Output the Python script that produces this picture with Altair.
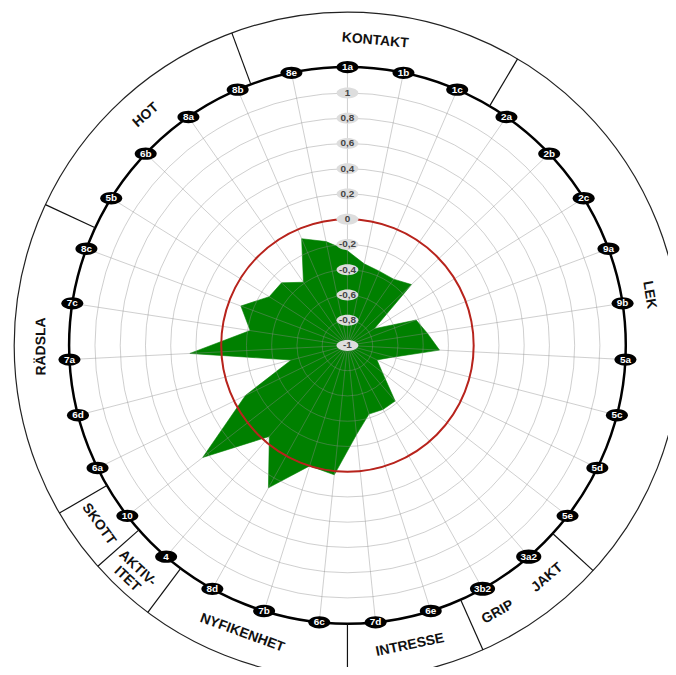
import altair as alt
import pandas as pd

# ---------------- data ----------------
codes = ["1a", "1b", "1c", "2a", "2b", "2c", "9a", "9b", "5a", "5c", "5d", "5e",
         "3a2", "3b2", "6e", "7d", "6c", "7b", "8d", "4", "10", "6a", "6d", "7a",
         "7c", "8c", "5b", "6b", "8a", "8b", "8e"]
scores = [-0.25, -0.34, -0.36, -0.36, -0.30, -0.75, -0.42, -0.36, -0.27, -0.63,
          -0.74, -0.65, -0.42, -0.42, -0.43, -0.29, 0.03, 0.00, 0.29, -0.05,
          0.45, -0.10, -0.54, 0.25, -0.22, -0.10, -0.27, -0.28, -0.39, -0.08, -0.16]
tick_values = [-1.0, -0.8, -0.6, -0.4, -0.2, 0.0, 0.2, 0.4, 0.6, 0.8, 1.0]
tick_labels = ["-1", "-0,8", "-0,6", "-0,4", "-0,2", "0", "0,2", "0,4", "0,6", "0,8", "1"]
ring_values = [-0.8, -0.6, -0.4, -0.2, 0.0, 0.2, 0.4, 0.6, 0.8, 1.0]
reference_value = 0.0
section_names = ["KONTAKT", "LEK", "JAKT", "GRIP", "INTRESSE", "NYFIKENHET",
                 "AKTIV-\nITET", "SKOTT", "RÄDSLA", "HOT"]

# ---------------- layout ----------------
section_label_deg = [5.2, 80.5, 139.3, 150.6, 168.2, 200.1, 223.3, 234.3, 269.8, 318.8]
section_divider_deg = [339.7, 30.7, 132.5, 156.0, 180.0, 216.8, 228.5, 239.8, 295.0]

N = len(codes)
PX = 127.0          # pixels per value unit
W, H = 664, 659
CX, CY = 341.5, 337.5
R_CODE = 2.205
R_SECTION = 2.425
R_OUTER = 2.64
FONT = "Liberation Sans"
OVAL_T = "M -1 0 A 1 0.5 0 1 1 1 0 A 1 0.5 0 1 1 -1 0 Z"
OVAL_C = "M -1 0 A 1 0.56 0 1 1 1 0 A 1 0.56 0 1 1 -1 0 Z"

xs = alt.Scale(domain=[-CX / PX, (W - CX) / PX], nice=False, zero=False)
ys = alt.Scale(domain=[-(H - CY) / PX, CY / PX], nice=False, zero=False)


def X(f):
    return alt.X(f, type="quantitative", scale=xs, axis=None)


def Y(f):
    return alt.Y(f, type="quantitative", scale=ys, axis=None)


base_df = pd.DataFrame({"i": list(range(N)), "code": codes, "v": scores})
poly_df = pd.DataFrame({"i": list(range(N)) + [N], "v": scores + scores[:1]})
ring_df = pd.DataFrame({"v": ring_values})
ref_df = pd.DataFrame({"v": [reference_value]})
tick_df = pd.DataFrame({"v": tick_values, "label": tick_labels})
sec_df = pd.DataFrame({"name": section_names, "deg": section_label_deg})
div_df = pd.DataFrame({"deg": section_divider_deg})
frame_df = pd.DataFrame({"rr": [R_CODE, R_OUTER], "w": ["thick", "thin"]})

TH = f"2*PI*datum.i/{N}"
CIRCLE_SIZE = f"pow(2*datum.rr*{PX}, 2)"

polygon = alt.Chart(poly_df).transform_calculate(
    th=TH, rr="datum.v+1"
).transform_calculate(
    px="datum.rr*sin(datum.th)", py="datum.rr*cos(datum.th)"
).mark_line(fill="#008000", stroke="#008000", strokeWidth=0.6).encode(
    x=X("px"), y=Y("py"), order=alt.Order("i:Q")
)

spokes = alt.Chart(base_df).transform_calculate(
    th=TH, c="0"
).transform_calculate(
    sx=f"{R_CODE}*sin(datum.th)", sy=f"{R_CODE}*cos(datum.th)"
).mark_rule(stroke="#8c8c8c", strokeOpacity=0.42, strokeWidth=1).encode(
    x=X("c"), y=Y("c"), x2=alt.X2("sx"), y2=alt.Y2("sy")
)


def ring_layer(df, stroke, width, opacity=1.0):
    return alt.Chart(df).transform_calculate(
        c="0", sz=CIRCLE_SIZE
    ).mark_point(shape="circle", filled=False, fillOpacity=0, stroke=stroke,
                 strokeWidth=width, strokeOpacity=opacity, opacity=1).encode(
        x=X("c"), y=Y("c"), size=alt.Size("sz:Q", scale=None)
    )


rings = ring_layer(ring_df.assign(rr=ring_df["v"] + 1), "#8c8c8c", 1, 0.42)
ref_ring = ring_layer(ref_df.assign(rr=ref_df["v"] + 1), "#b8231c", 2)
frame_thick = ring_layer(frame_df[frame_df["w"] == "thick"], "#000000", 2.5)
frame_thin = ring_layer(frame_df[frame_df["w"] == "thin"], "#222222", 1.2)

dividers = alt.Chart(div_df).transform_calculate(
    th="datum.deg*PI/180"
).transform_calculate(
    x0=f"{R_CODE}*sin(datum.th)", y0=f"{R_CODE}*cos(datum.th)",
    x1=f"{R_OUTER}*sin(datum.th)", y1=f"{R_OUTER}*cos(datum.th)"
).mark_rule(stroke="#111111", strokeWidth=1.2).encode(
    x=X("x0"), y=Y("y0"), x2=alt.X2("x1"), y2=alt.Y2("y1")
)

tick_ovals = alt.Chart(tick_df).transform_calculate(
    ty="datum.v+1", c="0"
).mark_point(shape=OVAL_T, filled=True, fill="#dddddd", opacity=1, size=480, strokeWidth=0).encode(
    x=X("c"), y=Y("ty")
)

tick_text = alt.Chart(tick_df).transform_calculate(
    ty="datum.v+1", c="0"
).mark_text(font=FONT, fontSize=10, fontWeight="bold", color="#444444",
            align="center", baseline="middle").encode(
    x=X("c"), y=Y("ty"), text="label:N"
)

code_ovals = alt.Chart(base_df).transform_calculate(
    th=TH, sz="length(datum.code) > 2 ? 640 : 490"
).transform_calculate(
    cx=f"{R_CODE}*sin(datum.th)", cy=f"{R_CODE}*cos(datum.th)"
).mark_point(shape=OVAL_C, filled=True, fill="#000000", opacity=1, strokeWidth=0).encode(
    x=X("cx"), y=Y("cy"), size=alt.Size("sz:Q", scale=None)
)

code_text = alt.Chart(base_df).transform_calculate(
    th=TH
).transform_calculate(
    cx=f"{R_CODE}*sin(datum.th)", cy=f"{R_CODE}*cos(datum.th)"
).mark_text(font=FONT, fontSize=10, fontWeight="bold", color="#ffffff",
            align="center", baseline="middle").encode(
    x=X("cx"), y=Y("cy"), text="code:N"
)

sec_text = alt.Chart(sec_df).transform_calculate(
    th="datum.deg*PI/180"
).transform_calculate(
    sx=f"{R_SECTION}*sin(datum.th)", sy=f"{R_SECTION}*cos(datum.th)",
    rot="((cos(datum.th) > -0.05 ? datum.deg : datum.deg - 180) + 360) % 360"
).mark_text(font=FONT, fontSize=14, fontWeight="bold", color="#111111",
            align="center", baseline="middle", lineBreak="\n", lineHeight=15).encode(
    x=X("sx"), y=Y("sy"), text="name:N", angle=alt.Angle("rot:Q", scale=None)
)

chart = alt.layer(
    polygon, spokes, rings, ref_ring, frame_thin, frame_thick, dividers,
    tick_ovals, tick_text, code_ovals, code_text, sec_text
).properties(
    width=W, height=H, padding=0, autosize=alt.AutoSizeParams(type="none")
).configure_view(stroke=None)

chart.save("out.html", embed_options={"renderer": "svg", "actions": False})
